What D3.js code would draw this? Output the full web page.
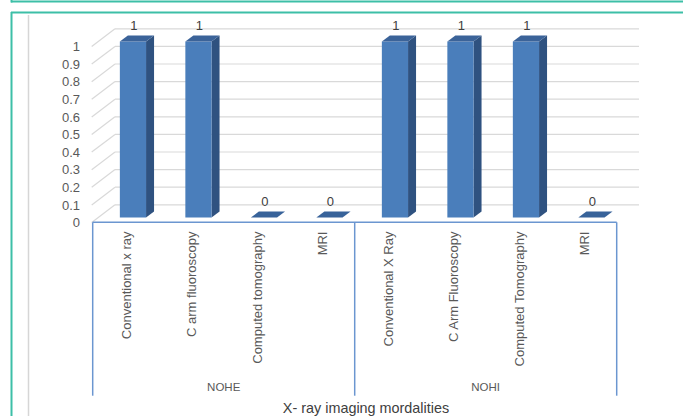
<!DOCTYPE html>
<html><head><meta charset="utf-8">
<script src="https://cdn.jsdelivr.net/npm/d3@7"></script>
<style>html,body{margin:0;padding:0;background:#fff;}svg{display:block;}</style>
</head><body>
<svg id="chart" width="683" height="416"></svg>
<script>
const categories = ["Conventional x ray","C arm fluoroscopy","Computed tomography","MRI",
                    "Conventional X Ray","C Arm Fluoroscopy","Computed Tomography","MRI"];
const groups = ["NOHE","NOHE","NOHE","NOHE","NOHI","NOHI","NOHI","NOHI"];
const groupNames = ["NOHE","NOHI"];
const values = [1,1,0,0,1,1,1,0];
const yTicks = [0,0.1,0.2,0.3,0.4,0.5,0.6,0.7,0.8,0.9,1];
const axisTitle = "X- ray imaging mordalities";

const svg = d3.select("#chart");
const FONT = "Liberation Sans, Arial, sans-serif";

// frame decorations
const teal = "#3dbfa7";
svg.append("line").attr("x1",11).attr("x2",683).attr("y1",1.5).attr("y2",1.5).attr("stroke",teal).attr("stroke-width",2);
svg.append("line").attr("x1",11.5).attr("x2",11.5).attr("y1",0).attr("y2",2.5).attr("stroke",teal).attr("stroke-width",2);
svg.append("line").attr("x1",11).attr("x2",683).attr("y1",12.5).attr("y2",12.5).attr("stroke",teal).attr("stroke-width",2);
svg.append("line").attr("x1",11.5).attr("x2",11.5).attr("y1",12).attr("y2",416).attr("stroke",teal).attr("stroke-width",2);
svg.append("line").attr("x1",28.5).attr("x2",28.5).attr("y1",15).attr("y2",416).attr("stroke","#d6d6d6").attr("stroke-width",1.5);

// scales
const x = d3.scaleBand().domain(d3.range(categories.length)).range([92.7, 616.7]).paddingInner(0.6).paddingOuter(0.3);
const y = d3.scaleLinear().domain([0,1]).range([222.5, 46.5]);

// 3D offsets
const wall = {dx: 22.3, dy: -17.7};
const front = {dx: 7.5, dy: -5};
const depth = {dx: 8, dy: -6};

const grid = svg.append("g").attr("stroke","#d9d9d9").attr("stroke-width",1.2).attr("fill","none");
yTicks.forEach(v => {
  grid.append("line")
    .attr("x1", x.range()[0] + wall.dx).attr("x2", x.range()[1] + wall.dx)
    .attr("y1", y(v) + wall.dy).attr("y2", y(v) + wall.dy);
  grid.append("line")
    .attr("x1", x.range()[0] - 1).attr("x2", x.range()[0] + wall.dx)
    .attr("y1", y(v)).attr("y2", y(v) + wall.dy);
});

// y axis labels
const yAxis = d3.axisLeft(y).tickValues(yTicks).tickSize(0).tickPadding(3).tickFormat(d3.format("~g"));
const ya = svg.append("g").attr("transform","translate(83,0)").call(yAxis);
ya.select(".domain").remove();
ya.selectAll("text").attr("font-family",FONT).attr("font-size",13).attr("fill","#595959");

// bars
const bars = svg.append("g");
values.forEach((v,i) => {
  const x0 = x(i) + front.dx, x1 = x0 + x.bandwidth();
  const yt = y(v) + front.dy, yb = y(0) + front.dy;
  // side
  bars.append("polygon")
    .attr("points", [[x1,yt],[x1+depth.dx,yt+depth.dy],[x1+depth.dx,yb+depth.dy],[x1,yb]].join(" "))
    .attr("fill","#2f5280");
  // front
  if (yb - yt > 0) bars.append("rect").attr("x",x0).attr("y",yt).attr("width",x.bandwidth()).attr("height",yb-yt).attr("fill","#4a7ebb");
  // top
  bars.append("polygon")
    .attr("points", [[x0,yt],[x0+depth.dx,yt+depth.dy],[x1+depth.dx,yt+depth.dy],[x1,yt]].join(" "))
    .attr("fill", v > 0 ? "#3b6399" : "#38639a");
  // label
  svg.append("text").attr("x", (x0+x1)/2 + 1).attr("y", yt - 16.5)
    .attr("text-anchor","middle").attr("dominant-baseline","central")
    .attr("font-family",FONT).attr("font-size",13).attr("fill","#404040").text(d3.format("~g")(v));
});

// category axis box
const axisColor = "#6b96d0";
const ax = svg.append("g").attr("stroke",axisColor).attr("stroke-width",1.5);
const axTop = 222.3, axBottom = 395.7;
ax.append("line").attr("x1",x.range()[0]).attr("x2",x.range()[1]).attr("y1",axTop).attr("y2",axTop);
[0,4,8].forEach(k => {
  const xx = x.range()[0] + k * x.step();
  ax.append("line").attr("x1",xx).attr("x2",xx).attr("y1",axTop).attr("y2",axBottom);
});

// category labels
categories.forEach((c,i) => {
  const cx = x(i) + x.bandwidth()/2 + 1;
  svg.append("text")
    .attr("transform", `translate(${cx},231.5) rotate(-90)`)
    .attr("text-anchor","end").attr("dominant-baseline","central")
    .attr("font-family",FONT).attr("font-size",13).attr("fill","#595959").text(c);
});

// group labels
groupNames.forEach((g,k) => {
  const idx = groups.map((d,i)=>d===g?i:-1).filter(i=>i>=0);
  const gx = (x.range()[0] + idx[0]*x.step() + x.range()[0] + (idx[idx.length-1]+1)*x.step())/2;
  svg.append("text").attr("x",gx).attr("y",387)
    .attr("text-anchor","middle").attr("dominant-baseline","central")
    .attr("font-family",FONT).attr("font-size",11.5).attr("fill","#595959").text(g);
});

// axis title
svg.append("text").attr("x",366).attr("y",408)
  .attr("text-anchor","middle").attr("dominant-baseline","central")
  .attr("font-family",FONT).attr("font-size",14.4).attr("fill","#404040").text(axisTitle);
</script>
</body></html>
